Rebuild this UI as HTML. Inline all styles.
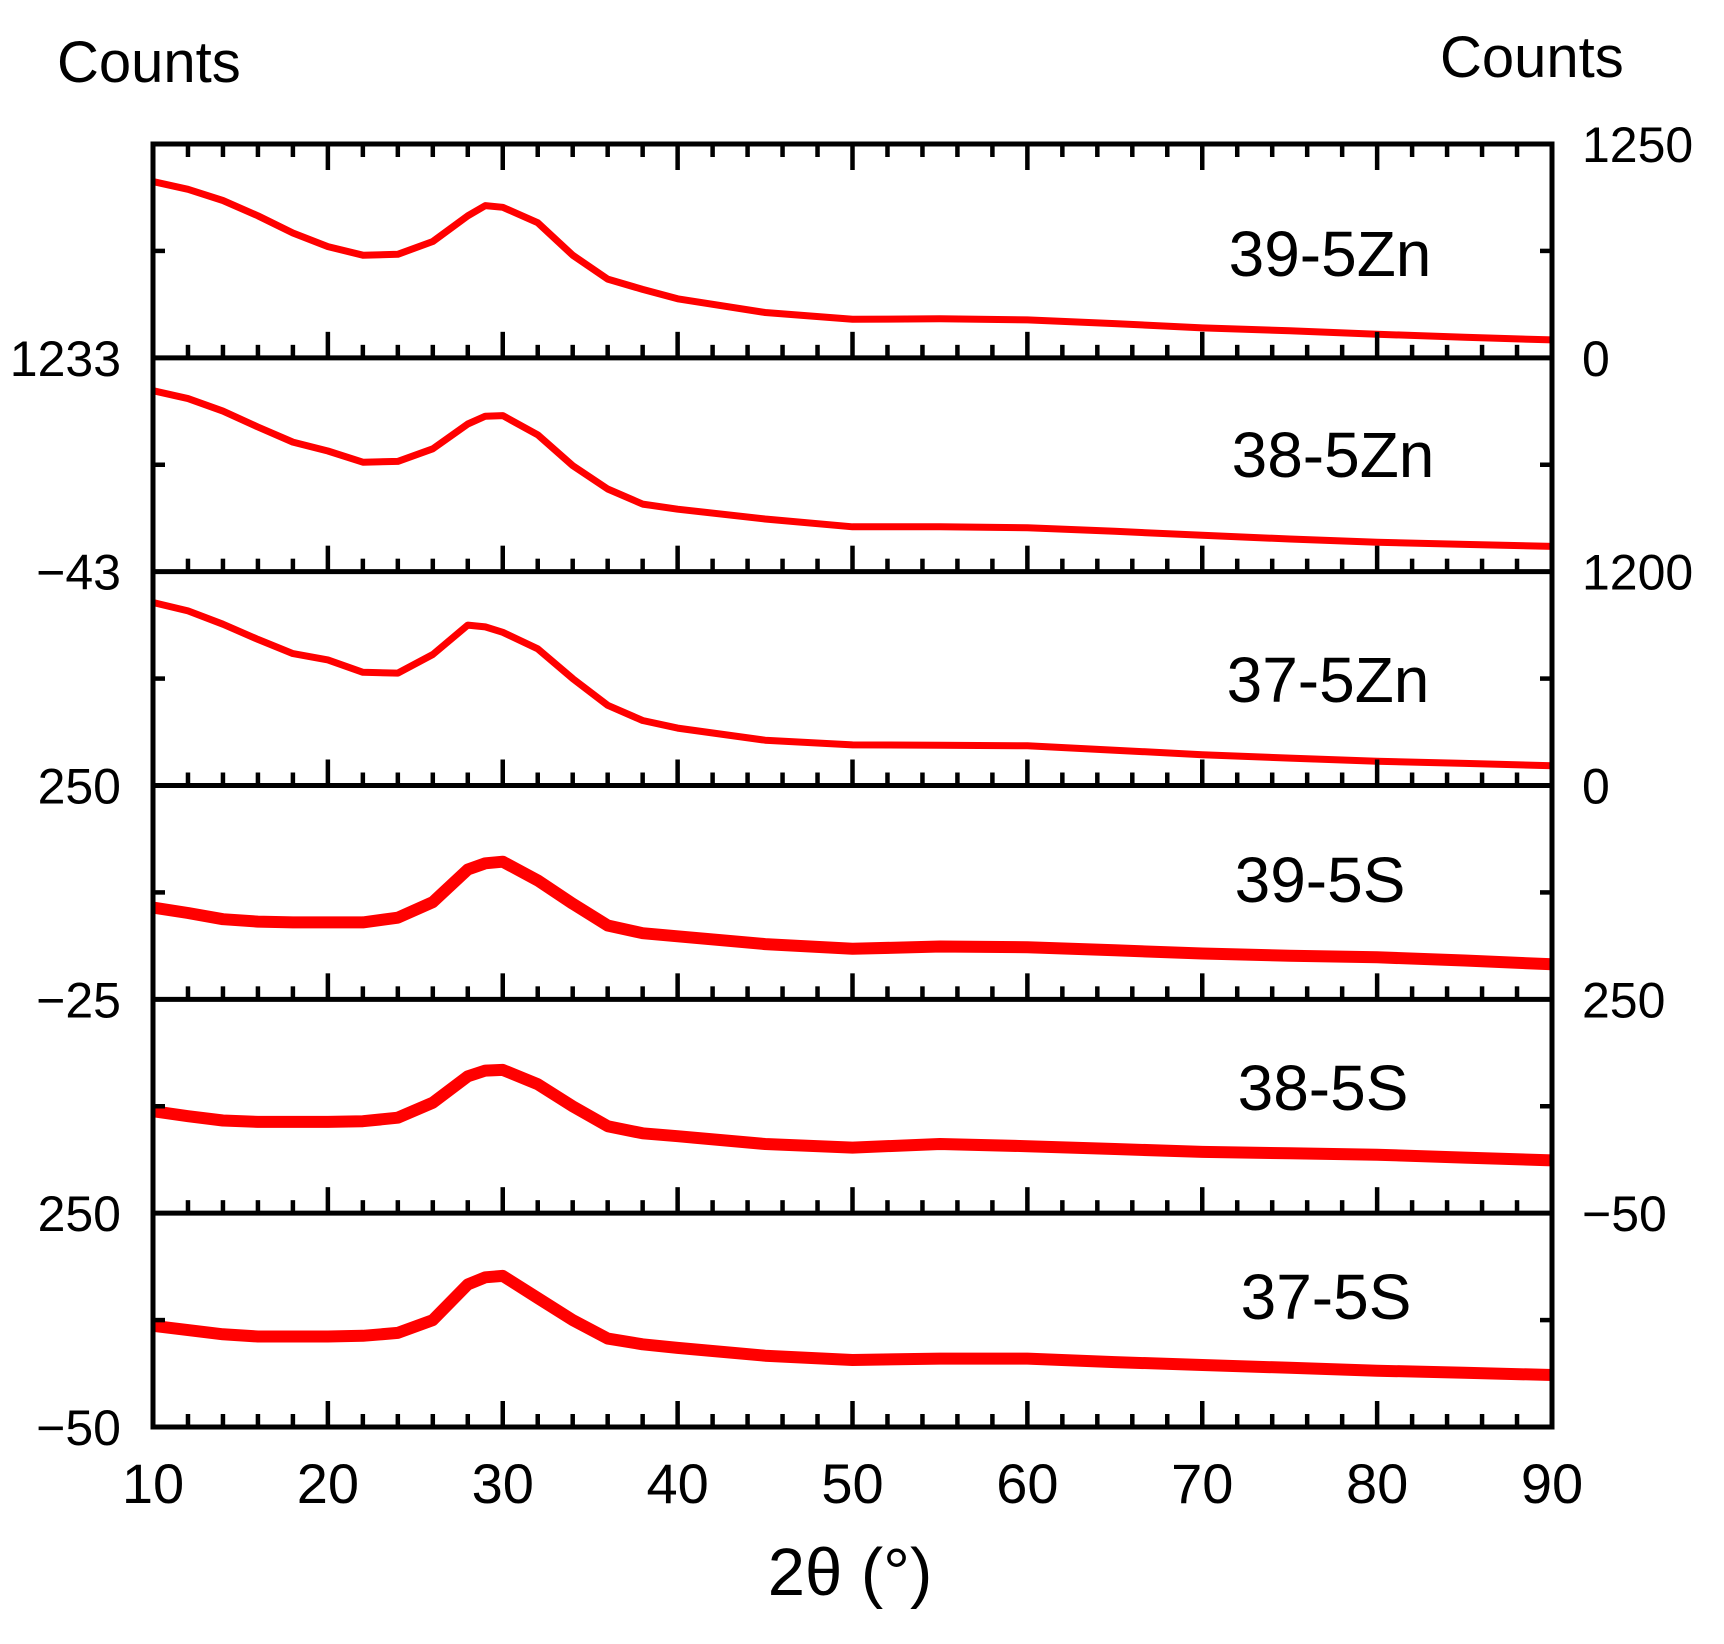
<!DOCTYPE html>
<html><head><meta charset="utf-8"><style>
body{margin:0;background:#fff}
svg{display:block}
text{font-family:"Liberation Sans",Arial,sans-serif;fill:#000}
</style></head><body>
<svg id="chart" width="1724" height="1644" viewBox="0 0 1724 1644" xmlns="http://www.w3.org/2000/svg">
<g id="curves"></g>
<g id="axes"></g>
<g id="labels"></g>
</svg>
<script>
const xs = [10,12,14,16,18,20,22,24,26,28,29,30,32,34,36,38,40,45,50,55,60,65,70,75,80,85,90];
const sampleNames = ["39-5Zn","38-5Zn","37-5Zn","39-5S","38-5S","37-5S"];
const s395Zn = [1030,985,920,830,730,650,600,605,680,830,890,880,790,600,460,400,345,265,225,228,222,200,175,158,138,120,105];
const s385Zn = [1037,990,915,820,730,677,610,615,690,838,885,888,774,590,450,360,330,271,225,225,219,198,174,152,133,120,108];
const s375Zn = [1027,980,905,820,740,705,635,631,735,900,890,860,767,600,450,365,322,254,228,226,223,198,173,154,136,124,111];
const s395S = [93,86,78,75,74,74,74,80,100,142,150,152,128,98,70,60,56,46,40,43,42,38,34,31,29,25,20];
const s385S = [93,86,80,78,78,78,79,84,105,142,150,151,131,100,72,62,58,47,42,47,44,40,36,34,32,28,24];
const s375S = [92,86,80,77,77,77,78,82,100,150,160,162,131,100,74,66,61,50,44,46,46,41,37,33,29,26,23];
const seriesList = [s395Zn,s385Zn,s375Zn,s395S,s385S,s375S];
const yMin = [0,-43,0,-25,-50,-50];
const yMax = [1250,1233,1200,250,250,250];
const xTicks = [10,20,30,40,50,60,70,80,90];
const leftLabels = ["1233","\u221243","250","\u221225","250","\u221250"];
const rightLabels = ["1250","0","1200","0","250","\u221250"];

const NS="http://www.w3.org/2000/svg";
const L=153,R=1552,T=144,B=1427,PH=(B-T)/6;
function xScale(v){return L+(v-10)/80*(R-L);}
function yScale(i,v){const bot=T+PH*(i+1);return bot-(v-yMin[i])/(yMax[i]-yMin[i])*PH;}
function mk(tag,attrs,parent){const e=document.createElementNS(NS,tag);for(const k in attrs)e.setAttribute(k,attrs[k]);parent.appendChild(e);return e;}
const curves=document.getElementById('curves'),axes=document.getElementById('axes'),labels=document.getElementById('labels');

seriesList.forEach((s,i)=>{
  let d=s.map((v,j)=>(j?'L':'M')+xScale(xs[j]).toFixed(1)+','+yScale(i,v).toFixed(1)).join('');
  const p=mk('path',{d:d,fill:'none',stroke:'#ff0000','stroke-width':i<3?7:12,'stroke-linejoin':'round'},curves);
  
  
});

const fr=mk('rect',{x:L,y:T,width:R-L,height:B-T,fill:'none',stroke:'#000','stroke-width':5},axes);


for(let i=1;i<6;i++){
  const ln=mk('line',{x1:L,x2:R,y1:T+PH*i,y2:T+PH*i,stroke:'#000','stroke-width':5},axes);
  
  
}
for(let v=12;v<90;v+=2){
  const major=(v%10===0);const len=major?26:13;const x=xScale(v);
  for(let i=0;i<6;i++){
    const bot=T+PH*(i+1);
    const t=mk('line',{x1:x,x2:x,y1:bot,y2:bot-len,stroke:'#000','stroke-width':4.5},axes);
    
    
  }
  const t2=mk('line',{x1:x,x2:x,y1:T,y2:T+len,stroke:'#000','stroke-width':4.5},axes);
  
  
}
for(let i=0;i<6;i++){
  const y=T+PH*(i+0.5);
  const a=mk('line',{x1:L,x2:L+12,y1:y,y2:y,stroke:'#000','stroke-width':4.5},axes);
  
  
  const b=mk('line',{x1:R,x2:R-12,y1:y,y2:y,stroke:'#000','stroke-width':4.5},axes);
  
  
}
function txt(s,x,y,size,anchor,name){const e=mk('text',{x:x,y:y,'font-size':size,'text-anchor':anchor},labels);e.textContent=s;return e;}
xTicks.forEach(v=>txt(String(v),xScale(v),1503,56,'middle','x-tick-label'));
leftLabels.forEach((s,i)=>txt(s,121,T+PH*(i+1)+18,50,'end','left-y-label'));
rightLabels.forEach((s,i)=>txt(s,1582,T+PH*i+18,50,'start','right-y-label'));
const sx=[1330,1333,1328,1320,1323,1326];
const sy=[276,477,702,902,1110,1319];
sampleNames.forEach((s,i)=>txt(s,sx[i],sy[i],64,'middle','sample-label'));
txt('Counts',57,82,58,'start','left-axis-title');
txt('Counts',1440,77,58,'start','right-axis-title');
txt('2\u03b8 (\u00b0)',850,1595,67,'middle','x-axis-title');
</script>
</body></html>
